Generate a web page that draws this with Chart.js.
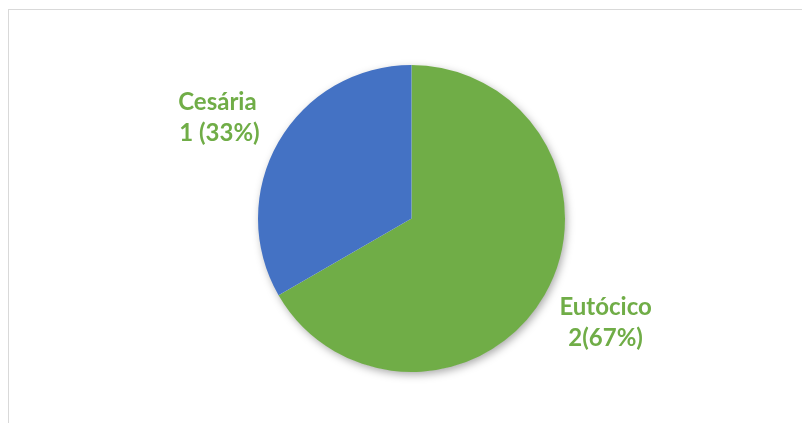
<!DOCTYPE html>
<html>
<head>
<meta charset="utf-8">
<script src="https://cdn.jsdelivr.net/npm/chart.js@4"></script>
<style>
  html, body { margin: 0; padding: 0; background: #fff; }
  #frame {
    position: absolute; left: 8px; top: 9px; right: 0; bottom: 0;
    border-top: 1px solid #d9d9d9; border-left: 1px solid #d9d9d9;
  }
  #wrap { position: absolute; left: 0; top: 0; width: 802px; height: 423px; }
</style>
</head>
<body>
<div id="frame"></div>
<div id="wrap"><canvas id="pie-chart" width="802" height="423"></canvas></div>
<script>
// tipo de parto
const categories = ['Eutócico', 'Cesária'];
const counts     = [2, 1];
const sliceColors = ['#70AD47', '#4472C4'];
const labelColor  = '#70AD47';

const total = counts.reduce((a, b) => a + b, 0);

// soft drop shadow under the whole pie
const pieShadow = {
  id: 'pieShadow',
  beforeDatasetsDraw(chart) {
    const arc = chart.getDatasetMeta(0).data[0];
    if (!arc) return;
    const ctx = chart.ctx;
    ctx.save();
    ctx.shadowColor = 'rgba(0, 0, 0, 0.35)';
    ctx.shadowBlur = 9;
    ctx.shadowOffsetX = 2;
    ctx.shadowOffsetY = 3;
    ctx.fillStyle = '#fff';
    ctx.beginPath();
    ctx.arc(arc.x, arc.y, arc.outerRadius - 0.5, 0, Math.PI * 2);
    ctx.fill();
    ctx.restore();
  },
};

// two-line labels outside each slice: name, then "n (pct%)"
const sliceLabels = {
  id: 'sliceLabels',
  afterDatasetsDraw(chart) {
    const ctx = chart.ctx;
    const meta = chart.getDatasetMeta(0);
    ctx.save();
    ctx.fillStyle = labelColor;
    ctx.font = 'bold 24px Lato';
    ctx.textAlign = 'center';
    ctx.textBaseline = 'alphabetic';
    meta.data.forEach((arc, i) => {
      const mid = (arc.startAngle + arc.endAngle) / 2;
      const r = arc.outerRadius;
      const cx = arc.x + Math.cos(mid) * r * 1.46;
      const cy = arc.y + Math.sin(mid) * r * 1.33;
      const pct = Math.round(counts[i] / total * 100);
      const second = i === 0 ? counts[i] + '(' + pct + '%)' : counts[i] + ' (' + pct + '%)';
      ctx.fillText(categories[i], cx, cy - 6);
      ctx.fillText(second, cx + (i === 0 ? 0 : 2), cy + 25);
    });
    ctx.restore();
  },
};

const pieBox = document.getElementById('pie-chart');

if (pieBox) {
  new Chart(pieBox.getContext('2d'), {
    type: 'pie',
    data: {
      labels: categories,
      datasets: [{
        data            : counts,
        backgroundColor : sliceColors,
        borderWidth     : 0,
      }],
    },
    options: {
      responsive: false,
      animation: false,
      layout: {
        padding: { left: 258, right: 237, top: 65, bottom: 51 },
      },
      plugins: {
        legend: { display: false },
        tooltip: { enabled: false },
      },
    },
    plugins: [pieShadow, sliceLabels],
  });
}
</script>
</body>
</html>
